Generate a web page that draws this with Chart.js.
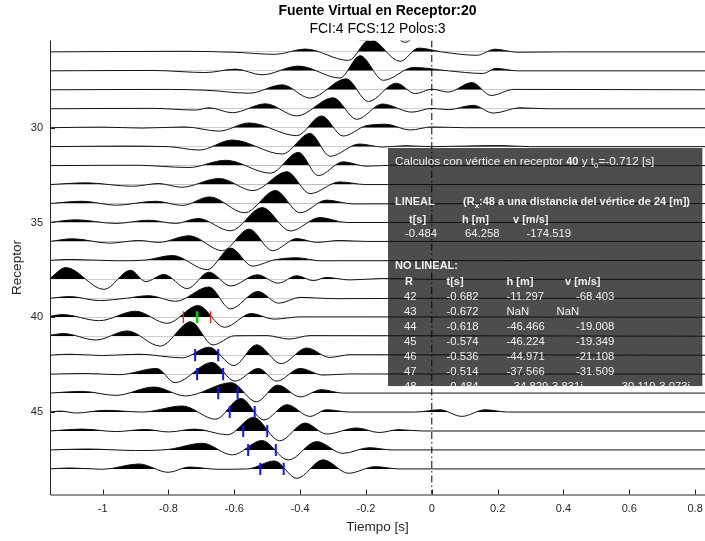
<!DOCTYPE html>
<html>
<head>
<meta charset="utf-8">
<script src="https://cdn.jsdelivr.net/npm/chart.js@4.4.1/dist/chart.umd.min.js"></script>
<style>
  body { margin: 0; background: #fff; }
</style>
</head>
<body>
<canvas id="sismo" width="705" height="541"></canvas>
<script>
// limites de los ejes
const tiempoMin = -1.16, tiempoMax = 0.83;
const receptorMin = 25.4, receptorMax = 49.35;

// trazas: pares [tiempo (s), amplitud en separaciones de traza], maximos y minimos
const traza25 = [[-1.16,0],[-0.45,0.02],[-0.33,0.12],[-0.205,-0.38],[-0.15,0.6],[-0.082,-0.5],[-0.02,0.2],[0.06,0],[0.83,0]];
const traza26 = [[-1.16,0],[-0.75,0.03],[-0.6,-0.02],[-0.475,-0.13],[-0.385,0.15],[-0.253,-0.45],[-0.188,0.66],[-0.096,-0.5],[-0.04,0.2],[0.03,0],[0.137,-0.18],[0.192,0.14],[0.26,-0.02],[0.4,0],[0.83,0]];
const traza27 = [[-1.16,0],[-0.85,0.02],[-0.687,-0.09],[-0.596,0.09],[-0.516,-0.21],[-0.405,0.25],[-0.279,-0.38],[-0.218,0.8],[-0.147,-0.5],[-0.055,0.18],[0.05,0],[0.156,-0.14],[0.195,0.13],[0.26,0],[0.83,0]];
const traza28 = [[-1.16,0],[-0.8,0.02],[-0.68,-0.03],[-0.555,-0.18],[-0.454,0.26],[-0.37,-0.44],[-0.26,0.58],[-0.193,-0.62],[-0.108,0.35],[-0.05,-0.2],[0.0,0.03],[0.05,-0.12],[0.122,0.38],[0.18,-0.3],[0.25,0.02],[0.83,0]];
const traza29 = [[-1.16,0],[-0.85,0.02],[-0.717,-0.07],[-0.677,0.05],[-0.606,-0.21],[-0.505,0.26],[-0.41,-0.38],[-0.3,0.58],[-0.228,-0.56],[-0.15,0.25],[-0.06,-0.18],[0.0,0.02],[0.05,-0.05],[0.126,0.18],[0.187,-0.23],[0.268,0.05],[0.35,0],[0.83,0]];
const traza30 = [[-1.16,0],[-1.0,0.03],[-0.88,-0.02],[-0.75,0.04],[-0.646,-0.18],[-0.555,0.25],[-0.41,-0.42],[-0.335,0.62],[-0.269,-0.44],[-0.2,0.1],[-0.14,0.18],[-0.066,-0.12],[0.0,0.04],[0.1,0],[0.83,0]];
const traza31 = [[-1.16,0],[-0.95,0.03],[-0.8,0.0],[-0.707,-0.18],[-0.606,0.35],[-0.454,-0.39],[-0.37,0.7],[-0.309,-0.51],[-0.22,0.14],[-0.15,-0.02],[-0.08,0.05],[0.0,0],[0.2,0.06],[0.3,0],[0.83,0]];
const traza32 = [[-1.16,0],[-0.9,0.02],[-0.738,-0.1],[-0.626,0.28],[-0.49,-0.4],[-0.405,0.7],[-0.345,-0.53],[-0.269,0.2],[-0.2,-0.03],[-0.1,0.03],[0.0,0],[0.83,0]];
const traza33 = [[-1.16,0],[-1.05,0.09],[-0.91,-0.09],[-0.83,0.05],[-0.76,-0.14],[-0.646,0.32],[-0.543,-0.32],[-0.44,0.68],[-0.37,-0.48],[-0.28,0.14],[-0.2,0],[0.83,0]];
const traza34 = [[-1.16,0],[-1.062,0.12],[-0.96,-0.09],[-0.839,0.12],[-0.758,-0.1],[-0.675,0.35],[-0.568,-0.49],[-0.475,0.69],[-0.40,-0.49],[-0.32,0.18],[-0.24,-0.02],[0.83,0]];
const traza35 = [[-1.16,0],[-1.082,0.14],[-0.96,-0.05],[-0.86,0.12],[-0.778,-0.05],[-0.71,0.21],[-0.611,-0.44],[-0.515,0.79],[-0.43,-0.45],[-0.34,0.26],[-0.26,0],[0.83,0]];
const traza36 = [[-1.16,0],[-1.092,0.14],[-0.98,-0.09],[-0.89,0.05],[-0.83,-0.05],[-0.737,0.3],[-0.636,-0.49],[-0.555,0.65],[-0.484,-0.49],[-0.41,0.15],[-0.35,-0.05],[-0.28,0.05],[-0.2,0],[0.83,0]];
const traza37 = [[-1.16,0],[-1.1,0.05],[-0.96,-0.02],[-0.87,0.02],[-0.788,0.26],[-0.682,-0.49],[-0.611,0.65],[-0.545,-0.3],[-0.48,0.02],[-0.41,0.14],[-0.34,-0.02],[0.83,0]];
const traza38 = [[-1.16,0.05],[-1.112,0.62],[-0.996,-0.53],[-0.915,0.48],[-0.869,-0.12],[-0.814,0.26],[-0.743,-0.49],[-0.677,0.38],[-0.611,-0.35],[-0.53,0.24],[-0.467,-0.2],[-0.41,0.19],[-0.36,-0.07],[-0.32,0.1],[-0.25,-0.03],[-0.15,0.04],[0.0,0],[0.83,0]];
const traza39 = [[-1.16,0],[-1.1,0.09],[-1.01,-0.12],[-0.93,0.0],[-0.86,0.14],[-0.778,-0.16],[-0.677,0.6],[-0.612,-0.56],[-0.528,0.36],[-0.465,-0.26],[-0.4,0.05],[-0.3,-0.02],[0.0,0],[0.83,0]];
const traza40 = [[-1.16,0.05],[-1.123,0.14],[-1.01,-0.18],[-0.9,0.32],[-0.804,-0.32],[-0.71,0.62],[-0.63,-0.53],[-0.548,0.2],[-0.48,-0.1],[-0.4,0.02],[0.83,0]];
const traza41 = [[-1.16,0.05],[-1.12,0.14],[-1.02,-0.2],[-0.925,0.28],[-0.825,-0.52],[-0.732,0.76],[-0.665,-0.46],[-0.6,0.02],[-0.5,0.03],[-0.434,-0.15],[-0.37,0.03],[0.83,0]];
const traza42 = [[-1.16,0],[-1.1,0.05],[-1.0,-0.02],[-0.89,0.05],[-0.758,-0.14],[-0.677,0.42],[-0.601,-0.55],[-0.532,0.55],[-0.458,-0.45],[-0.38,0.38],[-0.31,-0.12],[-0.25,0.02],[0.83,0]];
const traza43 = [[-1.16,0],[-1.05,0.03],[-0.95,-0.03],[-0.836,0.3],[-0.78,-0.45],[-0.668,0.62],[-0.598,-0.37],[-0.527,0.3],[-0.471,-0.37],[-0.40,0.3],[-0.33,-0.05],[-0.25,0.01],[0.83,0]];
const traza44 = [[-1.16,0],[-1.062,0.09],[-0.96,-0.12],[-0.844,0.32],[-0.748,-0.15],[-0.609,0.55],[-0.533,-0.46],[-0.468,0.42],[-0.4,-0.2],[-0.335,0.18],[-0.27,0],[0.83,0]];
const traza45 = [[-1.16,0],[-1.13,0.05],[-1.08,-0.05],[-0.99,0.09],[-0.88,0.0],[-0.758,0.32],[-0.657,-0.38],[-0.58,0.72],[-0.51,-0.42],[-0.44,0.39],[-0.37,-0.23],[-0.32,0.12],[-0.25,0],[-0.05,0],[0.025,0.12],[0.091,-0.23],[0.162,0.12],[0.23,0],[0.83,0]];
const traza46 = [[-1.16,0],[-1.06,0.1],[-0.96,-0.03],[-0.87,0.08],[-0.8,-0.05],[-0.72,0.1],[-0.62,-0.2],[-0.542,0.72],[-0.462,-0.52],[-0.385,0.42],[-0.32,-0.16],[-0.228,0.16],[-0.16,-0.08],[-0.1,0.07],[-0.03,0],[0.83,0]];
const traza47 = [[-1.16,0],[-1.05,0.05],[-0.9,-0.03],[-0.8,0.03],[-0.697,0.35],[-0.606,-0.26],[-0.516,0.5],[-0.436,-0.53],[-0.35,0.44],[-0.27,-0.18],[-0.19,0.12],[-0.12,0],[0.83,0]];
const traza48 = [[-1.16,0],[-1.1,0.05],[-1.0,-0.02],[-0.89,0.26],[-0.8,-0.18],[-0.737,0.1],[-0.65,-0.02],[-0.56,0.0],[-0.478,0.42],[-0.41,-0.5],[-0.33,0.48],[-0.253,-0.23],[-0.172,0.12],[-0.1,0],[0.83,0]];

const receptores = [25,26,27,28,29,30,31,32,33,34,35,36,37,38,39,40,41,42,43,44,45,46,47,48];
const trazas = [traza25,traza26,traza27,traza28,traza29,traza30,traza31,traza32,traza33,traza34,traza35,traza36,
                traza37,traza38,traza39,traza40,traza41,traza42,traza43,traza44,traza45,traza46,traza47,traza48];

// ventana del vertice (receptor 40) y picados por receptor
const vertice = 40;
const t0 = -0.713;
const ventanaVertice = [-0.755, -0.672];
const receptoresPicados = [42, 43, 44, 45, 46, 47, 48];
const picadoInicio = [-0.719, -0.713, -0.649, -0.614, -0.573, -0.558, -0.521];
const picadoFin    = [-0.649, -0.634, -0.590, -0.538, -0.500, -0.474, -0.450];
const altoMarca = 0.32;

// tabla de resultados
const filasR = ['42', '43', '44', '45', '46', '47', '48'];
const filasT = ['-0.682', '-0.672', '-0.618', '-0.574', '-0.536', '-0.514', '-0.484'];
const filasH = ['-11.297', 'NaN', '-46.466', '-46.224', '-44.971', '-37.566', '-34.829-3.831i'];
const filasV = ['-68.403', 'NaN', '-19.008', '-19.349', '-21.108', '-31.509', '-30.119-3.073i'];
const lineal = ['-0.484', '64.258', '-174.519'];

const fuente = '"Liberation Sans", Arial, Helvetica, sans-serif';
const colorEje = '#262626';

const datasets = [];

// marcas verticales (segmentos separados con huecos)
function segmentos(ts, rs) {
    const pts = [];
    ts.forEach((t, i) => {
        pts.push({x: t, y: rs[i] - altoMarca}, {x: t, y: rs[i] + altoMarca}, {x: t, y: null});
    });
    return pts;
}
datasets.push({
    data: segmentos(picadoInicio.concat(picadoFin), receptoresPicados.concat(receptoresPicados)),
    showLine: true, borderColor: 'rgb(20,20,255)', borderWidth: 2, pointRadius: 0, order: -1
});
datasets.push({
    data: segmentos(ventanaVertice, [vertice, vertice]),
    showLine: true, borderColor: 'rgb(255,30,30)', borderWidth: 1.3, pointRadius: 0, order: -1
});
datasets.push({
    data: segmentos([t0], [vertice]),
    showLine: true, borderColor: 'rgb(0,210,0)', borderWidth: 2.5, pointRadius: 0, order: -1
});
// linea de tiempo cero
datasets.push({
    data: [{x: 0, y: receptorMin}, {x: 0, y: receptorMax}],
    showLine: true, borderColor: '#000', borderWidth: 1, borderDash: [7, 3, 1.5, 3], pointRadius: 0, order: -1
});

// trazas con relleno negro en la parte positiva
receptores.forEach((r, i) => {
    datasets.push({
        data: trazas[i].map(([t, a]) => ({x: t, y: r - a})),
        showLine: true,
        borderColor: '#111',
        borderWidth: 1,
        pointRadius: 0,
        cubicInterpolationMode: 'monotone',
        fill: {target: {value: r}, above: '#000', below: 'rgba(0,0,0,0)'}
    });
});

function escribir(ctx, x, y, partes, base = 11.3) {
    let cx = x;
    partes.forEach(([txt, estilo]) => {
        const neg = estilo && estilo.includes('b');
        const sub = estilo && estilo.includes('s');
        const tam = sub ? 8 : (neg ? 11 : base);
        ctx.font = (neg ? 'bold ' : '') + tam + 'px ' + fuente;
        ctx.fillText(txt, cx, sub ? y + 4 : y);
        cx += ctx.measureText(txt).width;
    });
}

const cuadro = {
    id: 'cuadro',
    beforeDatasetsDraw(chart) {
        const {ctx, scales: {x, y}} = chart;
        const izq = x.getPixelForValue(-0.133), der = x.getPixelForValue(0.822);
        const arr = y.getPixelForValue(31.07), abj = y.getPixelForValue(43.63);
        ctx.save();
        ctx.fillStyle = '#4d4d4d';
        ctx.fillRect(izq, arr, der - izq, abj - arr);
        ctx.restore();
    },
    afterDatasetsDraw(chart) {
        const {ctx, scales: {x, y}} = chart;
        const izq = x.getPixelForValue(-0.133), der = x.getPixelForValue(0.822);
        const arr = y.getPixelForValue(31.07), abj = y.getPixelForValue(43.63);
        ctx.save();
        ctx.beginPath();
        ctx.rect(izq, arr, der - izq, abj - arr);
        ctx.clip();
        ctx.fillStyle = '#f0f0f0';
        ctx.textBaseline = 'middle';
        ctx.textAlign = 'left';
        const X = v => izq + v, Y = v => arr + v;
        escribir(ctx, X(7), Y(14), [['Calculos con vértice en receptor '], ['40', 'b'], [' y t'], ['0', 's'], ['=-0.712 [s]']], 11.75);
        escribir(ctx, X(7), Y(53.5), [['LINEAL', 'b']]);
        escribir(ctx, X(75), Y(53.5), [['(R', 'b'], ['x', 'bs'], [':48 a una distancia del vértice de 24 [m])', 'b']]);
        escribir(ctx, X(21), Y(72), [['t[s]', 'b']]);
        escribir(ctx, X(74), Y(72), [['h [m]', 'b']]);
        escribir(ctx, X(125), Y(72), [['v [m/s]', 'b']]);
        escribir(ctx, X(17), Y(86), [[lineal[0]]]);
        escribir(ctx, X(77), Y(86), [[lineal[1]]]);
        escribir(ctx, X(138.5), Y(86), [[lineal[2]]]);
        escribir(ctx, X(7), Y(118), [['NO LINEAL:', 'b']]);
        escribir(ctx, X(17), Y(133.5), [['R', 'b']]);
        escribir(ctx, X(58.5), Y(133.5), [['t[s]', 'b']]);
        escribir(ctx, X(118.5), Y(133.5), [['h [m]', 'b']]);
        escribir(ctx, X(177), Y(133.5), [['v [m/s]', 'b']]);
        filasR.forEach((r, i) => {
            const yy = Y(148.5 + i * 15);
            const complejo = filasH[i].endsWith('i');
            escribir(ctx, X(16), yy, [[r]]);
            escribir(ctx, X(58.5), yy, [[filasT[i]]]);
            escribir(ctx, X(complejo ? 122 : 118.5), yy, [[filasH[i]]]);
            const xv = filasV[i] === 'NaN' ? 168.5 : (complejo ? 230 : 188);
            escribir(ctx, X(xv), yy, [[filasV[i]]]);
        });
        ctx.restore();
    },
    afterDraw(chart) {
        const {ctx, chartArea: a, scales: {x, y}} = chart;
        ctx.save();
        // ejes y marcas hacia dentro
        ctx.strokeStyle = colorEje;
        ctx.lineWidth = 1;
        ctx.beginPath();
        ctx.moveTo(a.left + 0.5, a.top);
        ctx.lineTo(a.left + 0.5, a.bottom + 0.5);
        ctx.lineTo(a.right, a.bottom + 0.5);
        x.ticks.forEach(t => {
            const px = Math.round(x.getPixelForValue(t.value)) + 0.5;
            ctx.moveTo(px, a.bottom);
            ctx.lineTo(px, a.bottom - 5);
        });
        y.ticks.forEach(t => {
            const py = Math.round(y.getPixelForValue(t.value)) + 0.5;
            ctx.moveTo(a.left, py);
            ctx.lineTo(a.left + 5, py);
        });
        ctx.stroke();
        // titulos
        const cx = (a.left + a.right) / 2;
        ctx.textAlign = 'center';
        ctx.textBaseline = 'middle';
        ctx.fillStyle = '#000';
        ctx.font = 'bold 14px ' + fuente;
        ctx.fillText('Fuente Virtual en Receptor:20', cx, 11);
        ctx.font = '14px ' + fuente;
        ctx.fillText('FCI:4 FCS:12 Polos:3', cx, 29);
        ctx.fillStyle = colorEje;
        ctx.font = '13.5px ' + fuente;
        ctx.fillText('Tiempo [s]', cx, 527);
        ctx.translate(17, (a.top + a.bottom) / 2);
        ctx.rotate(-Math.PI / 2);
        ctx.fillText('Receptor', 0, 0);
        ctx.restore();
    }
};

new Chart(document.getElementById('sismo').getContext('2d'), {
    type: 'scatter',
    data: { datasets: datasets },
    options: {
        responsive: false,
        animation: false,
        layout: { padding: { top: 40.5, right: 0, left: 0, bottom: 0 } },
        plugins: {
            legend: { display: false },
            tooltip: { enabled: false },
            title: { display: false }
        },
        scales: {
            x: {
                type: 'linear',
                min: tiempoMin,
                max: tiempoMax,
                grid: { display: false, drawTicks: false },
                border: { display: false },
                ticks: {
                    stepSize: 0.2,
                    includeBounds: false,
                    padding: 8,
                    color: colorEje,
                    font: { family: fuente, size: 11 },
                    maxRotation: 0,
                    callback: v => String(Math.round(v * 10) / 10)
                },
                afterFit: s => { s.height = 46.5; s.paddingLeft = 0; s.paddingRight = 0; }
            },
            y: {
                type: 'linear',
                reverse: true,
                min: receptorMin,
                max: receptorMax,
                grid: { display: false, drawTicks: false },
                border: { display: false },
                ticks: {
                    stepSize: 5,
                    includeBounds: false,
                    padding: 7,
                    color: colorEje,
                    font: { family: fuente, size: 11 }
                },
                afterFit: s => { s.width = 50; s.paddingTop = 0; s.paddingBottom = 0; }
            }
        }
    },
    plugins: [cuadro]
});
</script>
</body>
</html>
